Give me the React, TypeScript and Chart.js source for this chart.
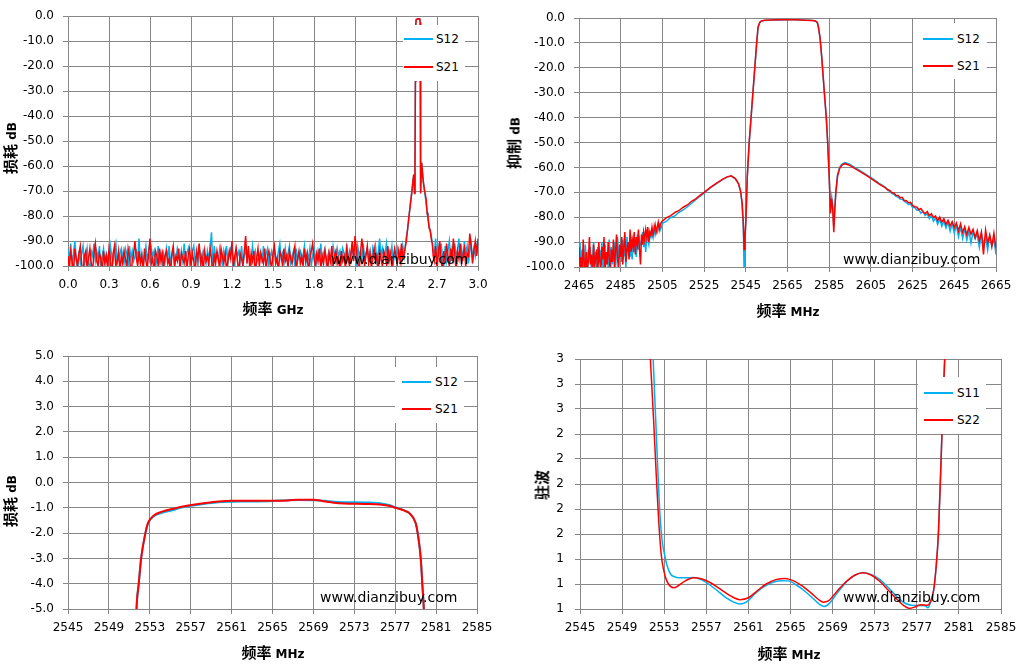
import React, { useEffect, useRef } from "react";
import { Chart, registerables } from "chart.js";

Chart.register(...registerables);

const FONT = "'DejaVu Sans', 'Noto Sans CJK SC', sans-serif";
const CJK = "'Noto Sans CJK SC', 'DejaVu Sans', sans-serif";
const GRID = "#878787";
const RED = "#FF0000";
const BLUE = "#00B0F0";

// ---------- Panel 1: wideband 0–3 GHz ----------
const wideTicksGHz = [0, 0.3, 0.6, 0.9, 1.2, 1.5, 1.8, 2.1, 2.4, 2.7, 3.0];
const lossDbTicks = [-100, -90, -80, -70, -60, -50, -40, -30, -20, -10, 0];
const wideNoiseStepGHz = 0.01;
const wideLowS21 = [
  -96, -101, -94, -98, -103, -93, -97, -100, -95, -92,
  -99, -104, -96, -94, -101, -97, -93, -99, -102, -95,
  -91, -98, -100, -95, -97, -103, -94, -99, -96, -101,
  -93, -97, -105, -95, -92, -100, -98, -94, -102, -96,
  -99, -94, -97, -101, -93, -96, -104, -98, -95, -90,
  -97, -100, -94, -99, -96, -102, -93, -98, -101, -95,
  -89, -99, -97, -103, -94, -96, -100, -93, -98, -95,
  -101, -96, -94, -99, -97, -104, -95, -92, -100, -96,
  -98, -93, -102, -95, -97, -99, -94, -101, -96, -93,
  -100, -95, -98, -103, -94, -97, -91, -99, -96, -102,
  -94, -98, -96, -100, -93, -97, -105, -95, -99, -94,
  -97, -101, -93, -96, -99, -95, -102, -98, -94, -97,
  -90, -100, -96, -93, -98, -103, -95, -97, -100, -94,
  -88, -99, -92, -101, -95, -98, -94, -104, -97, -93,
  -100, -95, -97, -99, -93, -102, -96, -94, -98, -101,
  -95, -92, -99, -97, -103, -94, -96, -100, -93, -98,
  -96, -101, -94, -97, -99, -95, -92, -102, -97, -94,
  -99, -96, -100, -93, -98, -95, -103, -97, -94, -91,
  -97, -100, -95, -98, -93, -101, -96, -99, -94, -97,
  -102, -95, -98, -92, -100, -96, -94, -99, -97, -103,
  -94, -98, -96, -101, -93, -97, -100, -95, -90, -98,
  -88, -93, -99, -102, -95, -89, -94, -100, -96, -92,
  -99, -95, -101, -97, -93, -98, -96, -103, -94, -97,
  -100, -94, -96, -99, -92, -98, -95, -101, -97, -93,
  -96, -99, -94, -98, -91, -97, -95,
];
const wideLowS12 = [
  -93, -98, -91, -100, -95, -90, -97, -102, -94, -99,
  -95, -92, -100, -97, -93, -99, -101, -94, -96, -91,
  -98, -94, -97, -92, -101, -96, -93, -99, -95, -97,
  -100, -92, -96, -98, -94, -91, -99, -97, -95, -93,
  -96, -99, -93, -95, -100, -92, -97, -94, -98, -96,
  -94, -97, -89, -99, -95, -100, -96, -92, -98, -94,
  -99, -93, -96, -94, -101, -97, -92, -98, -95, -100,
  -95, -98, -93, -97, -92, -99, -96, -94, -100, -97,
  -93, -96, -99, -94, -98, -91, -97, -95, -93, -99,
  -97, -94, -92, -98, -96, -100, -93, -95, -99, -94,
  -96, -99, -94, -97, -93, -86.5, -101, -92, -96, -95,
  -98, -93, -96, -100, -94, -97, -92, -99, -95, -93,
  -95, -97, -100, -93, -96, -94, -98, -92, -99, -96,
  -93, -98, -95, -97, -100, -92, -96, -94, -99, -97,
  -96, -94, -99, -92, -97, -95, -93, -100, -96, -94,
  -99, -93, -96, -98, -94, -91, -97, -95, -99, -93,
  -97, -95, -92, -99, -96, -94, -100, -93, -98, -95,
  -94, -98, -96, -92, -99, -95, -97, -93, -100, -96,
  -93, -96, -99, -94, -97, -91, -98, -95, -93, -99,
  -96, -94, -97, -100, -92, -95, -98, -93, -96, -94,
  -98, -93, -95, -97, -91, -99, -94, -96, -92, -97,
  -95, -99, -92, -96, -94, -98, -91, -97, -95, -93,
  -97, -94, -99, -93, -96, -92, -98, -95, -89, -96,
  -93, -97, -95, -91, -98, -94, -96, -92, -99, -95,
  -97, -93, -96, -94, -98, -92, -96,
];
const widePeakFreqGHz = [
  2.476, 2.485, 2.495, 2.505, 2.515, 2.522, 2.528, 2.531, 2.535, 2.539,
  2.542, 2.545, 2.548, 2.56, 2.574, 2.577, 2.579, 2.581, 2.584, 2.588,
  2.594, 2.6, 2.61, 2.62, 2.628, 2.634, 2.642, 2.65, 2.659, 2.666, 2.672,
];
const widePeakS21 = [
  -90, -85, -80, -75.5, -70.5, -67, -64, -63.3, -71, -60,
  -26, -3, -1.3, -1.0, -1.1, -2.5, -26, -71, -64, -58.6,
  -63, -66.5, -70, -73, -79, -80, -85, -85.5, -89.5, -91, -96,
];
const widePeakS12 = [
  -88, -85.5, -80.5, -75, -71, -67.5, -64.5, -63.5, -70.5, -60,
  -26, -3, -1.3, -1.0, -1.1, -2.5, -26, -70, -64, -59,
  -62.5, -66, -70.5, -74.5, -78.5, -81.5, -83.5, -86, -88, -91, -94,
];
const wideHighStartGHz = 2.68;
const wideHighS21 = [
  -98, -92, -101, -95, -90, -97, -103, -94, -99, -91,
  -96, -100, -93, -98, -89, -95, -102, -94, -97, -91,
  -99, -96, -93, -100, -95, -96, -87, -92, -99, -94,
  -90, -96, -89,
];
const wideHighS12 = [
  -95, -89, -99, -93, -97, -91, -96, -100, -92, -98,
  -94, -90, -97, -93, -99, -91, -96, -94, -89, -97,
  -93, -98, -90, -95, -92, -99, -94, -91, -97, -93,
  -96, -92, -95,
];

// ---------- Panel 2: rejection 2465–2665 MHz ----------
const rejTicksMHz = [2465, 2485, 2505, 2525, 2545, 2565, 2585, 2605, 2625, 2645, 2665];
const rejLowStartMHz = 2465;
const rejLowStepMHz = 0.5;
const rejLowS21 = [
  -92, -100, -96, -104, -89, -98, -101, -94, -103, -97,
  -88, -99, -95, -104, -91, -100, -96, -93, -105, -90,
  -98, -101, -92, -97, -88, -103, -94, -99, -90, -96,
  -102, -93, -98, -89, -100, -94, -87, -97, -101, -91,
  -96, -88, -99, -92, -86, -98, -93, -90, -97, -85,
  -94, -89, -92, -86, -95, -88, -91, -85, -93, -99,
  -87, -91, -86, -89, -85, -88, -84, -90, -86, -87,
  -84, -87, -85, -83, -86, -84, -82, -85, -83, -82,
];
const rejLowS12 = [
  -95, -90, -101, -93, -98, -104, -91, -97, -100, -93,
  -96, -92, -103, -97, -90, -99, -94, -101, -92, -98,
  -93, -99, -90, -102, -95, -91, -98, -94, -100, -89,
  -97, -92, -99, -95, -90, -101, -93, -88, -96, -94,
  -91, -98, -89, -95, -93, -100, -88, -94, -90, -96,
  -92, -97, -88, -94, -90, -96, -87, -93, -89, -91,
  -90, -86, -92, -88, -94, -87, -89, -91, -86, -88,
  -86, -88, -84, -87, -85, -86, -84, -83, -85, -84,
];
const rejMidFreqMHz = [
  2505, 2507, 2509, 2511, 2513, 2515, 2517, 2519, 2521, 2523,
  2525, 2528, 2531, 2534, 2536, 2538, 2540, 2541.5, 2542.5, 2543.2,
  2543.8, 2544.2, 2544.6, 2545.1, 2545.7, 2546.6, 2547.8, 2549.0, 2550.2, 2550.9,
  2551.7, 2552.5, 2554, 2557, 2561, 2565, 2569, 2573, 2577, 2578.4,
  2579.3, 2579.9, 2580.6, 2581.4, 2582.5, 2583.6, 2584.3, 2585.0, 2585.6, 2586.2,
  2586.7, 2587.2, 2587.7, 2588.2, 2589, 2590, 2591, 2592.5, 2594.5, 2597,
  2600, 2603, 2606, 2609, 2612,
];
const rejMidS21 = [
  -81.5, -80.2, -79.4, -78.1, -77.3, -76.0, -75.1, -73.6, -72.6, -71.2,
  -70.0, -68.0, -66.3, -64.7, -63.8, -63.4, -64.5, -66.5, -69.5, -74.0,
  -82.0, -93.0, -88.0, -80.0, -63.8, -50.3, -36.9, -23.5, -10.1, -3.6,
  -1.8, -1.2, -0.95, -0.85, -0.74, -0.72, -0.7, -0.86, -1.0, -1.2,
  -1.8, -4.0, -8.0, -15.5, -28.0, -40.0, -50.3, -63.8, -78.5, -72.5,
  -77.0, -86.0, -77.0, -70.0, -63.5, -60.5, -59.2, -58.5, -59.0, -60.3,
  -61.8, -63.3, -65.0, -66.7, -68.2,
];
const rejMidS12 = [
  -82.5, -81.6, -80.1, -79.5, -78.0, -77.1, -75.8, -74.4, -73.0, -71.6,
  -70.3, -68.2, -66.5, -64.8, -63.9, -63.5, -64.6, -66.6, -69.7, -74.5,
  -84.0, -102.0, -90.0, -81.0, -63.8, -50.3, -36.9, -23.5, -10.1, -3.6,
  -1.8, -1.2, -0.97, -0.88, -0.76, -0.74, -0.69, -0.8, -1.0, -1.2,
  -1.8, -4.0, -8.0, -15.5, -28.0, -40.0, -50.3, -63.5, -77.0, -72.0,
  -76.0, -84.0, -76.0, -69.5, -63.0, -60.0, -58.8, -58.1, -58.6, -59.9,
  -61.4, -63.0, -64.6, -66.4, -68.0,
];
const rejHighStartMHz = 2613;
const rejHighStepMHz = 1;
const rejHighS21 = [
  -68.9, -69.2, -70.1, -70.3, -71.2, -71.3, -72.2, -72.0, -73.3, -73.4,
  -74.2, -74.0, -75.3, -75.8, -75.9, -77.0, -76.5, -77.9, -78.6, -77.7,
  -79.4, -78.6, -80.2, -79.5, -81.4, -79.9, -82.0, -80.6, -82.9, -81.3,
  -83.5, -81.8, -84.2, -82.3, -85.5, -82.6, -86.1, -83.8, -87.0, -84.1,
  -86.8, -84.9, -88.2, -85.4, -89.5, -86.0, -95.0, -85.2, -90.3, -87.1,
  -91.8, -86.4, -92.5,
];
const rejHighS12 = [
  -69.1, -69.6, -70.4, -70.8, -71.6, -71.9, -72.7, -72.8, -73.6, -74.1,
  -74.9, -74.6, -76.2, -76.0, -77.2, -77.0, -78.4, -77.6, -79.3, -78.6,
  -80.5, -79.4, -81.6, -80.2, -82.8, -80.7, -83.6, -81.5, -84.3, -82.0,
  -85.6, -82.5, -86.4, -83.2, -87.8, -84.0, -88.5, -84.6, -89.2, -85.5,
  -90.4, -85.9, -88.6, -86.8, -92.1, -86.4, -90.8, -87.9, -93.2, -87.5,
  -91.4, -88.6, -95.0,
];

// ---------- Panel 3: passband insertion loss ----------
const passTicksMHz = [2545, 2549, 2553, 2557, 2561, 2565, 2569, 2573, 2577, 2581, 2585];
const passDbTicks = [-5, -4, -3, -2, -1, 0, 1, 2, 3, 4, 5];
const passFreqMHz = [
  2551.6, 2551.7, 2551.92, 2552.15, 2552.57, 2552.83, 2553.4, 2554.2, 2555.2, 2556.0,
  2557.4, 2559.7, 2561.0, 2563.0, 2565.0, 2566.5, 2567.5, 2569.0, 2570.0, 2571.0,
  2572.0, 2574.0, 2575.5, 2576.5, 2577.0, 2577.6, 2578.0, 2578.35, 2579.0, 2579.2,
  2579.5, 2579.65, 2579.8, 2579.9,
];
const passS21 = [
  -6.5, -5.0, -4.0, -3.0, -2.0, -1.6, -1.3, -1.15, -1.05, -0.97,
  -0.87, -0.75, -0.72, -0.72, -0.72, -0.71, -0.68, -0.68, -0.74, -0.8,
  -0.83, -0.85, -0.87, -0.93, -1.0, -1.07, -1.13, -1.2, -1.6, -2.0,
  -3.0, -4.0, -5.0, -6.0,
];
const passS12 = [
  -6.5, -5.0, -4.0, -3.0, -2.0, -1.62, -1.33, -1.2, -1.1, -1.0,
  -0.9, -0.78, -0.76, -0.75, -0.73, -0.7, -0.69, -0.7, -0.72, -0.76,
  -0.78, -0.79, -0.82, -0.9, -0.98, -1.06, -1.12, -1.2, -1.6, -2.0,
  -3.0, -4.0, -5.0, -6.0,
];

// ---------- Panel 4: VSWR ----------
const vswrTicks = [1, 1.2, 1.4, 1.6, 1.8, 2, 2.2, 2.4, 2.6, 2.8, 3];
const s22FreqMHz = [
  2551.5, 2551.75, 2552.0, 2552.2, 2552.4, 2552.6, 2552.8, 2553.1, 2553.4, 2553.9,
  2554.4, 2555.0, 2555.8, 2556.6, 2557.4, 2558.4, 2559.3, 2560.2, 2561.0, 2561.9,
  2562.7, 2563.6, 2564.5, 2565.3, 2566.1, 2567.0, 2567.6, 2568.1, 2568.6, 2569.5,
  2570.3, 2571.1, 2571.9, 2572.7, 2573.5, 2574.3, 2575.2, 2575.8, 2576.3, 2576.8,
  2577.4, 2578.0, 2578.3, 2578.6, 2578.85, 2579.05, 2579.25, 2579.45, 2579.65, 2579.8,
];
const s22Vswr = [
  3.3, 2.9, 2.5, 2.15, 1.82, 1.55, 1.38, 1.26, 1.2, 1.17,
  1.19, 1.225, 1.25, 1.24, 1.21, 1.155, 1.105, 1.075, 1.09, 1.15,
  1.2, 1.235, 1.245, 1.225, 1.185, 1.125, 1.08, 1.055, 1.065, 1.15,
  1.22, 1.27, 1.29, 1.27, 1.22, 1.15, 1.07, 1.025, 1.005, 1.015,
  1.035, 1.03, 1.06, 1.15, 1.35, 1.6, 2.05, 2.55, 3.0, 3.3,
];
const s11FreqMHz = [
  2551.8, 2552.0, 2552.2, 2552.4, 2552.6, 2552.8, 2553.0, 2553.3, 2553.6, 2553.9,
  2554.5, 2555.2, 2555.8, 2556.5, 2557.2, 2558.0, 2558.8, 2559.6, 2560.2, 2560.8,
  2561.6, 2562.4, 2563.2, 2564.0, 2564.8, 2565.6, 2566.4, 2567.2, 2567.8, 2568.2,
  2568.7, 2569.5, 2570.3, 2571.1, 2571.9, 2572.7, 2573.5, 2574.3, 2575.1, 2575.8,
  2576.5, 2577.2, 2577.8, 2578.05, 2578.3, 2578.6, 2578.85, 2579.05, 2579.25, 2579.45,
  2579.65, 2579.8,
];
const s11Vswr = [
  3.3, 2.9, 2.5, 2.1, 1.75, 1.55, 1.45, 1.34, 1.28, 1.26,
  1.25, 1.25, 1.252, 1.235, 1.2, 1.15, 1.095, 1.055, 1.04, 1.055,
  1.12, 1.175, 1.21, 1.227, 1.225, 1.19, 1.14, 1.08, 1.035, 1.02,
  1.045, 1.135, 1.215, 1.27, 1.29, 1.275, 1.235, 1.17, 1.1, 1.05,
  1.03, 1.028, 1.025, 1.01, 1.05, 1.15, 1.35, 1.6, 2.05, 2.55,
  3.0, 3.3,
];

// ---------- helpers ----------
type Pt = { x: number; y: number };
const zip = (xs: number[], ys: number[]): Pt[] => xs.map((x, i) => ({ x, y: ys[i] }));
const onGrid = (start: number, step: number, ys: number[]): Pt[] =>
  ys.map((y, i) => ({ x: +(start + i * step).toFixed(4), y }));

interface Box { left: number; top: number; width: number; height: number }
interface Plot { l: number; t: number; r: number; b: number }
interface AxisSpec { min: number; max: number; ticks: number[]; fmt: (v: number) => string }
interface SeriesSpec { label: string; color: string; width: number; points: Pt[]; smooth: boolean; order: number }
interface PanelSpec { box: Box; plot: Plot; x: AxisSpec; y: AxisSpec; series: SeriesSpec[]; yPad: number }

const f1 = (v: number) => v.toFixed(1);
const f0 = (v: number) => String(Math.round(v));

const panels: PanelSpec[] = [
  {
    box: { left: 0, top: 0, width: 505, height: 330 },
    plot: { l: 68, t: 14, r: 478, b: 266 },
    x: { min: 0, max: 3, ticks: wideTicksGHz, fmt: f1 },
    y: { min: -100, max: 0, ticks: lossDbTicks, fmt: f1 },
    yPad: 9,
    series: [
      { label: "S12", color: BLUE, width: 1.5, smooth: false, order: 2,
        points: [...onGrid(0, wideNoiseStepGHz, wideLowS12), ...zip(widePeakFreqGHz, widePeakS12), ...onGrid(wideHighStartGHz, wideNoiseStepGHz, wideHighS12)] },
      { label: "S21", color: RED, width: 1.5, smooth: false, order: 1,
        points: [...onGrid(0, wideNoiseStepGHz, wideLowS21), ...zip(widePeakFreqGHz, widePeakS21), ...onGrid(wideHighStartGHz, wideNoiseStepGHz, wideHighS21)] },
    ],
  },
  {
    box: { left: 505, top: 0, width: 520, height: 330 },
    plot: { l: 579, t: 18, r: 996, b: 267 },
    x: { min: 2465, max: 2665, ticks: rejTicksMHz, fmt: f0 },
    y: { min: -100, max: 0, ticks: lossDbTicks, fmt: f1 },
    yPad: 9,
    series: [
      { label: "S12", color: BLUE, width: 1.5, smooth: false, order: 2,
        points: [...onGrid(rejLowStartMHz, rejLowStepMHz, rejLowS12), ...zip(rejMidFreqMHz, rejMidS12), ...onGrid(rejHighStartMHz, rejHighStepMHz, rejHighS12)] },
      { label: "S21", color: RED, width: 1.5, smooth: false, order: 1,
        points: [...onGrid(rejLowStartMHz, rejLowStepMHz, rejLowS21), ...zip(rejMidFreqMHz, rejMidS21), ...onGrid(rejHighStartMHz, rejHighStepMHz, rejHighS21)] },
    ],
  },
  {
    box: { left: 0, top: 330, width: 505, height: 334 },
    plot: { l: 68, t: 356, r: 477, b: 609 },
    x: { min: 2545, max: 2585, ticks: passTicksMHz, fmt: f0 },
    y: { min: -5, max: 5, ticks: passDbTicks, fmt: f1 },
    yPad: 9,
    series: [
      { label: "S12", color: BLUE, width: 2, smooth: true, order: 2, points: zip(passFreqMHz, passS12) },
      { label: "S21", color: RED, width: 2, smooth: true, order: 1, points: zip(passFreqMHz, passS21) },
    ],
  },
  {
    box: { left: 505, top: 330, width: 520, height: 334 },
    plot: { l: 580, t: 359, r: 1001, b: 609 },
    x: { min: 2545, max: 2585, ticks: passTicksMHz, fmt: f0 },
    y: { min: 1, max: 3, ticks: vswrTicks, fmt: f0 },
    yPad: 11,
    series: [
      { label: "S11", color: BLUE, width: 1.5, smooth: true, order: 2, points: zip(s11FreqMHz, s11Vswr) },
      { label: "S22", color: RED, width: 1.5, smooth: true, order: 1, points: zip(s22FreqMHz, s22Vswr) },
    ],
  },
];

interface LegendSpec { l: number; t: number; r: number; b: number; lineL: number; lineR: number; textL: number; rows: { label: string; color: string; y: number }[] }
const legends: LegendSpec[] = [
  { l: 403, t: 25, r: 465, b: 81, lineL: 404, lineR: 433, textL: 436, rows: [{ label: "S12", color: BLUE, y: 39 }, { label: "S21", color: RED, y: 67 }] },
  { l: 913, t: 23, r: 987, b: 79, lineL: 923, lineR: 953, textL: 957, rows: [{ label: "S12", color: BLUE, y: 39 }, { label: "S21", color: RED, y: 66 }] },
  { l: 395, t: 367, r: 464, b: 423, lineL: 402, lineR: 431, textL: 435, rows: [{ label: "S12", color: BLUE, y: 382 }, { label: "S21", color: RED, y: 409 }] },
  { l: 918, t: 377, r: 986, b: 434, lineL: 924, lineR: 953, textL: 957, rows: [{ label: "S11", color: BLUE, y: 393 }, { label: "S22", color: RED, y: 420 }] },
];
const watermarks = [
  { x: 331, y: 259 },
  { x: 843, y: 259 },
  { x: 320, y: 597 },
  { x: 843, y: 597 },
];
const xTitles = [
  { cx: 273, cy: 308, unit: "GHz" },
  { cx: 788, cy: 310, unit: "MHz" },
  { cx: 273, cy: 652, unit: "MHz" },
  { cx: 789, cy: 653, unit: "MHz" },
];
const yTitles = [
  { cx: 10, cy: 148, cjk: "损耗", unit: "dB" },
  { cx: 514, cy: 143, cjk: "抑制", unit: "dB" },
  { cx: 10, cy: 501, cjk: "损耗", unit: "dB" },
  { cx: 542, cy: 485, cjk: "驻波", unit: "" },
];

function ChartPanel({ spec }: { spec: PanelSpec }) {
  const ref = useRef<HTMLCanvasElement>(null);
  useEffect(() => {
    const { box, plot } = spec;
    const axis = (a: AxisSpec, isX: boolean) => ({
      type: "linear" as const,
      min: a.min,
      max: a.max,
      afterBuildTicks: (s: any) => {
        s.ticks = a.ticks.map((value) => ({ value }));
      },
      afterFit: (s: any) => {
        if (isX) s.height = box.top + box.height - plot.b;
        else s.width = plot.l - box.left;
      },
      grid: { color: GRID, lineWidth: 1, tickLength: 5, tickColor: GRID, drawTicks: true },
      border: { color: GRID, width: 1 },
      ticks: {
        color: "#000",
        font: { family: FONT, size: 12 },
        padding: isX ? 7 : spec.yPad,
        maxRotation: 0,
        autoSkip: false,
        callback: (v: any) => a.fmt(Number(v)),
      },
    });
    const chart = new Chart(ref.current as HTMLCanvasElement, {
      type: "line",
      data: {
        datasets: spec.series.map((s) => ({
          label: s.label,
          data: s.points,
          borderColor: s.color,
          backgroundColor: s.color,
          borderWidth: s.width,
          pointRadius: 0,
          fill: false,
          tension: 0,
          cubicInterpolationMode: s.smooth ? ("monotone" as const) : ("default" as const),
          order: s.order,
        })),
      },
      options: {
        responsive: false,
        animation: false,
        events: [],
        layout: {
          padding: { left: 0, top: plot.t - box.top, right: box.left + box.width - plot.r, bottom: 0 },
        },
        plugins: { legend: { display: false }, tooltip: { enabled: false }, title: { display: false } },
        scales: { x: axis(spec.x, true) as any, y: axis(spec.y, false) as any },
      },
    });
    return () => chart.destroy();
  }, [spec]);
  const { box } = spec;
  return (
    <canvas
      ref={ref}
      width={box.width}
      height={box.height}
      style={{ position: "absolute", left: box.left, top: box.top, width: box.width, height: box.height }}
    />
  );
}

export default function App() {
  return (
    <div style={{ position: "absolute", left: 0, top: 0, width: 1025, height: 664, background: "#fff", overflow: "hidden", fontFamily: FONT, color: "#000" }}>
      {panels.map((p, i) => (
        <ChartPanel key={i} spec={p} />
      ))}
      {legends.map((lg, i) => (
        <div key={"lg" + i}>
          <div style={{ position: "absolute", left: lg.l, top: lg.t, width: lg.r - lg.l, height: lg.b - lg.t, background: "#fff", zIndex: 2 }} />
          {lg.rows.map((r) => (
            <React.Fragment key={r.label}>
              <div style={{ position: "absolute", left: lg.lineL, top: r.y - 0.75, width: lg.lineR - lg.lineL, height: 1.5, background: r.color, zIndex: 3 }} />
              <div style={{ position: "absolute", left: lg.textL, top: r.y - 8, height: 16, lineHeight: "16px", fontSize: 12, whiteSpace: "nowrap", zIndex: 3 }}>{r.label}</div>
            </React.Fragment>
          ))}
        </div>
      ))}
      {watermarks.map((w, i) => (
        <div key={"wm" + i} style={{ position: "absolute", left: w.x, top: w.y - 9, height: 18, lineHeight: "18px", fontSize: 14, whiteSpace: "nowrap", zIndex: 3 }}>
          www.dianzibuy.com
        </div>
      ))}
      {xTitles.map((t, i) => (
        <div key={"xt" + i} style={{ position: "absolute", left: t.cx, top: t.cy, transform: "translate(-50%, -50%)", whiteSpace: "nowrap", fontWeight: 700, lineHeight: 1, zIndex: 3 }}>
          <span style={{ fontFamily: CJK, fontSize: 15 }}>频率</span>
          <span style={{ fontFamily: FONT, fontSize: 12 }}> {t.unit}</span>
        </div>
      ))}
      {yTitles.map((t, i) => (
        <div key={"yt" + i} style={{ position: "absolute", left: t.cx, top: t.cy, transform: "translate(-50%, -50%) rotate(-90deg)", whiteSpace: "nowrap", fontWeight: 700, lineHeight: 1, zIndex: 3 }}>
          <span style={{ fontFamily: CJK, fontSize: 15 }}>{t.cjk}</span>
          {t.unit ? <span style={{ fontFamily: FONT, fontSize: 12 }}> {t.unit}</span> : null}
        </div>
      ))}
    </div>
  );
}
